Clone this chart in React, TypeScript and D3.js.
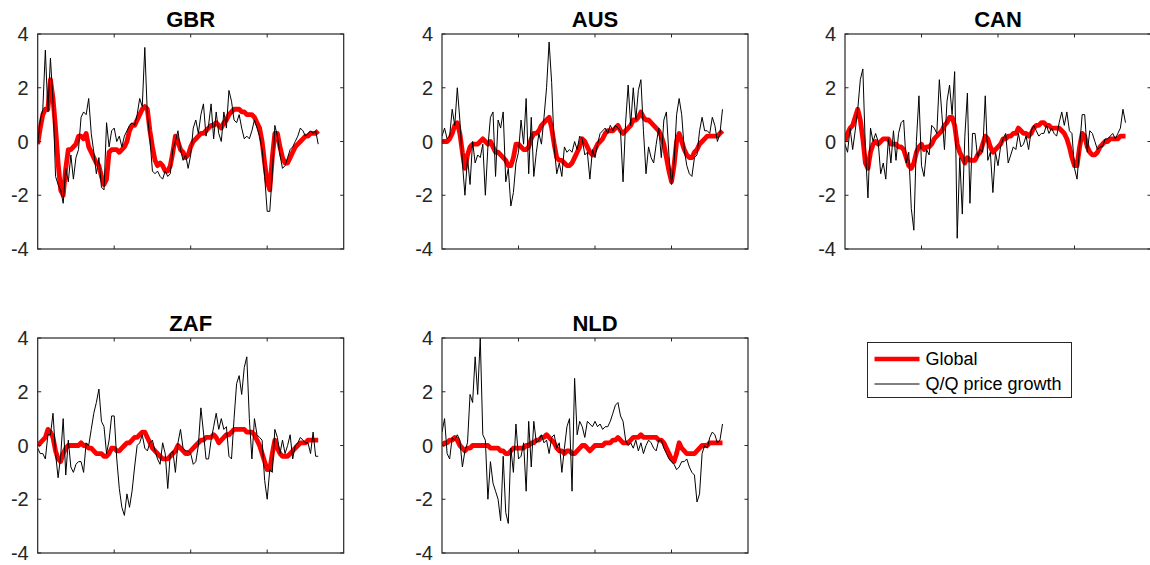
import React from "react"
import * as d3 from "d3"

// quarters on the x axis (index), tick marks only
const xDomain = [0, 120]
const xTicks = [30, 60, 90]
const yTicks = [-4, -2, 0, 2, 4]

const countries = ["GBR", "AUS", "CAN", "ZAF", "NLD"]

const gbrGlobal = [
  -0.1, 0.5, 1.0, 1.2, 1.2, 2.3, 1.6, 0.5, -0.8, -1.8,
  -2.0, -1.0, -0.3, -0.3, -0.2, -0.1, 0.2, 0.2, 0.1, 0.3,
  -0.2, -0.4, -0.6, -0.8, -0.9, -1.3, -1.6, -1.4, -0.4, -0.3,
  -0.3, -0.3, -0.4, -0.3, -0.2, 0.0, 0.4, 0.6, 0.6, 0.8,
  1.0, 1.2, 1.3, 1.2, 0.4, -0.2, -0.7, -0.9, -0.8, -0.9,
  -1.1, -1.1, -0.9, -0.4, 0.2, 0.0, -0.3, -0.4, -0.6, -0.5,
  -0.2, 0.0, 0.1, 0.2, 0.3, 0.3, 0.4, 0.5, 0.6, 0.6,
  0.7, 0.6, 0.5, 0.7, 0.8, 1.0, 1.1, 1.2, 1.2, 1.2,
  1.1, 1.1, 1.0, 1.0, 1.0, 0.9, 0.7, 0.5, 0.0, -0.8,
  -1.5, -1.8, -0.6, 0.3, 0.3, -0.2, -0.6, -0.8, -0.8, -0.6,
  -0.4, -0.2, -0.1, 0.0, 0.1, 0.2, 0.2, 0.3, 0.3, 0.3, 0.4,
]
const gbrQQ = [
  -0.1, 0.8, 1.2, 3.4, 1.1, 3.1, 1.5, -1.3, -1.6, -1.8,
  -2.3, -1.0, -1.5, -0.5, -1.4, -0.6, -0.3, 0.9, 1.1, 1.0,
  1.6, 0.3, -0.4, -1.2, -0.6, -1.7, -1.8, 0.7, -0.2, 0.4,
  0.5, 0.0, 0.2, -0.2, 0.2, 0.4, 0.6, 0.7, 0.6, 1.0,
  1.6, 1.3, 3.5, 1.0, 0.1, -1.1, -1.2, -1.1, -1.3, -1.4,
  -1.1, -1.3, -1.2, -0.3, 0.0, 0.4, -0.3, -0.7, -0.5, -1.0,
  -0.5, 0.5, 0.8, 0.3, 1.0, 1.4, 0.2, 0.6, 1.4, 0.1,
  1.1, 0.3, 0.0, 1.1, 0.5, 1.9, 1.5, 0.8, 0.7, 1.0,
  0.5, 0.1, 0.2, 0.1, 0.4, 0.8, 0.5, 0.2, -0.3, -1.3,
  -2.6, -2.6, -1.2, 0.6, 0.2, -0.5, -1.0, -0.9, -0.6, -0.3,
  -0.2, 0.0, 0.2, 0.5, 0.4, 0.2, 0.3, 0.4, 0.3, 0.4, -0.1,
]

const ausGlobal = [
  0.0, 0.0, 0.0, 0.1, 0.3, 0.6, 0.7, 0.3, -0.4, -1.0,
  -0.5, -0.2, -0.1, -0.1, -0.1, 0.0, 0.1, 0.0, -0.1, 0.0,
  -0.2, -0.4, -0.4, -0.5, -0.6, -0.7, -0.9, -0.9, -0.6, -0.1,
  -0.1, -0.2, -0.3, -0.3, -0.2, 0.1, 0.3, 0.3, 0.4, 0.6,
  0.7, 0.8, 0.9, 0.5, -0.1, -0.6, -0.7, -0.7, -0.8, -0.9,
  -0.9, -0.8, -0.6, -0.4, -0.2, 0.1, 0.0, -0.2, -0.4, -0.5,
  -0.3, -0.1, 0.0, 0.1, 0.3, 0.4, 0.4, 0.4, 0.5, 0.6,
  0.4, 0.3, 0.4, 0.5, 0.6, 0.8, 0.8, 0.9, 1.1, 0.9,
  0.8, 0.8, 0.7, 0.6, 0.5, 0.4, 0.2, -0.1, -0.6, -1.1,
  -1.5, -0.9, 0.0, 0.3, 0.0, -0.3, -0.5, -0.6, -0.6, -0.4,
  -0.3, -0.1, 0.0, 0.1, 0.2, 0.2, 0.2, 0.2, 0.2, 0.3, 0.4,
]
const ausQQ = [
  0.2, 0.5, 0.1, 0.2, 1.2, 0.6, 2.0, 0.8, -0.8, -2.0,
  -0.6, -1.6, 0.0, -0.8, -0.5, -0.6, -0.1, -2.0, -0.2, 0.9,
  1.1, -1.3, 0.8, 0.5, 1.1, -1.5, -1.0, -2.4, -1.9, -0.8,
  -0.4, 0.8, -0.1, 1.6, -1.2, 0.9, -1.3, -0.4, 0.3, -0.1,
  0.9, 2.0, 3.7, 2.2, -0.2, -1.2, -0.8, -1.3, -0.2, -0.4,
  -0.3, -0.4, 0.0, -0.3, 0.2, 0.1, -0.5, -0.4, -1.4, -0.3,
  -0.6, -0.1, 0.3, 0.4, 0.5, 0.3, 0.6, 0.4, 0.6, 0.5,
  0.4, -1.5, 0.7, 2.1, 0.6, 2.0, 0.8, 1.9, 2.3, 0.4,
  -1.2, -0.2, -0.6, -0.8, -0.1, 0.5, -0.6, 0.8, 1.1, -0.5,
  -1.6, -0.8, 1.0, 1.6, 1.0, -0.3, -0.9, -1.2, -1.3, -0.6,
  -0.5, 0.4, 0.9, 0.4, 0.4, 0.3, 0.9, 0.6, 0.0, 0.3, 1.2,
]

const canGlobal = [
  0.0, 0.3, 0.5, 0.6, 0.9, 1.2, 0.8, 0.1, -0.8, -1.0,
  -0.4, -0.1, 0.0, -0.1, 0.0, 0.1, 0.1, 0.1, -0.1, -0.1,
  -0.1, -0.2, -0.2, -0.3, -0.6, -0.9, -1.0, -0.8, -0.4, -0.2,
  -0.1, -0.3, -0.2, -0.2, -0.1, 0.1, 0.2, 0.3, 0.4, 0.6,
  0.7, 0.9, 0.9, 0.6, -0.1, -0.4, -0.6, -0.8, -0.6, -0.7,
  -0.7, -0.7, -0.5, -0.4, -0.1, 0.2, 0.1, -0.2, -0.4, -0.3,
  -0.2, -0.1, 0.1, 0.1, 0.2, 0.2, 0.3, 0.3, 0.5, 0.4,
  0.3, 0.3, 0.2, 0.3, 0.5, 0.6, 0.6, 0.7, 0.7, 0.6,
  0.6, 0.5, 0.5, 0.5, 0.5, 0.4, 0.3, 0.1, -0.2, -0.6,
  -0.9, -0.9, -0.2, 0.3, 0.2, -0.2, -0.4, -0.5, -0.5, -0.4,
  -0.2, -0.1, 0.0, 0.0, 0.1, 0.1, 0.1, 0.1, 0.2, 0.2, 0.2,
]
const canQQ = [
  -0.1, -0.4, 0.5, -0.3, 0.4, 1.2, 2.3, 2.7, -0.3, -2.1,
  0.5, 0.0, 0.3, 0.0, -1.2, -0.8, -1.4, 0.1, -0.8, 0.4,
  -0.7, 0.3, 0.7, 0.8, -0.8, -0.4, -2.5, -3.3, 0.0, 1.7,
  -0.9, -1.3, -0.3, -0.5, 0.6, 0.5, 0.3, 2.3, 1.0, -0.3,
  1.5, 2.1, 1.0, 2.6, -3.6, -0.6, -2.7, 0.2, 1.8, -2.3,
  0.3, 0.3, -0.6, -0.3, -0.4, 1.7, -0.7, -0.4, -1.9, -0.4,
  -0.9, -0.2, 0.1, 0.3, -0.8, -0.5, -0.2, -0.3, 0.3, -0.2,
  -0.1, 0.2, -0.3, 0.4, 0.6, 0.4, 0.2, 0.3, 0.3, 0.6,
  0.3, 0.5, 0.3, 0.2, 0.7, 1.1, 0.6, 1.1, 0.4, 0.3,
  -1.0, -1.4, -0.2, 1.0, 1.0, -0.4, 0.4, 0.3, 0.0, -0.3,
  -0.2, -0.2, 0.1, 0.1, 0.2, 0.3, 0.1, 0.3, 0.5, 1.2, 0.7,
]

const zafGlobal = [
  0.0, 0.1, 0.2, 0.3, 0.6, 0.5, 0.3, -0.2, -0.5, -0.6,
  -0.3, -0.1, 0.0, 0.0, 0.0, 0.0, 0.0, 0.1, 0.0, 0.0,
  -0.1, -0.1, -0.2, -0.3, -0.3, -0.3, -0.4, -0.4, -0.3, -0.1,
  -0.1, -0.2, -0.2, -0.1, 0.0, 0.1, 0.1, 0.2, 0.3, 0.3,
  0.4, 0.5, 0.5, 0.3, 0.1, -0.1, -0.2, -0.3, -0.4, -0.5,
  -0.5, -0.5, -0.4, -0.3, -0.2, 0.0, -0.1, -0.2, -0.3, -0.3,
  -0.2, -0.1, 0.0, 0.1, 0.2, 0.2, 0.3, 0.3, 0.3, 0.4,
  0.3, 0.1, 0.2, 0.3, 0.4, 0.4, 0.5, 0.6, 0.6, 0.6,
  0.6, 0.6, 0.5, 0.5, 0.5, 0.4, 0.2, 0.0, -0.3, -0.6,
  -0.9, -0.9, -0.3, 0.2, -0.1, -0.3, -0.4, -0.4, -0.4, -0.3,
  -0.2, -0.1, 0.0, 0.1, 0.1, 0.1, 0.2, 0.2, 0.2, 0.2, 0.2,
]
const zafQQ = [
  -0.1, -0.3, -0.3, -0.5, 0.4, 0.4, 1.2, -0.3, -1.2, -0.4,
  1.0, -1.1, 0.2, -0.8, -1.0, -0.7, -0.6, -0.6, -1.0, 0.1,
  0.0, 0.6, 1.2, 1.6, 2.1, 0.9, 0.7, -0.3, 0.2, 1.1,
  1.1, -0.5, -1.6, -2.3, -2.6, -1.8, -2.3, -1.7, -0.8, 0.0,
  0.1, 0.4, -0.1, -0.2, 0.1, 0.2, -0.2, -0.5, -0.7, 0.1,
  -0.3, -1.6, -0.3, -0.2, -1.0, 0.1, 0.6, -0.1, -0.2, -0.2,
  -0.3, -0.7, -0.6, 0.0, 1.4, 0.5, -0.5, -0.5, 0.2, 0.7,
  1.2, 0.6, 1.0, 0.6, 0.7, -0.4, -0.5, 1.0, 2.3, 2.6,
  1.9, 2.9, 3.3, 1.0, -0.5, 1.0, 0.4, 0.3, 0.2, -1.3,
  -2.0, -0.9, -1.0, 0.6, 0.3, -0.3, 0.2, -0.3, 0.0, 0.4,
  -0.5, 0.0, 0.1, 0.3, 0.2, 0.1, 0.1, -0.3, 0.5, -0.4, -0.4,
]

const nldGlobal = [
  0.0, 0.1, 0.1, 0.2, 0.2, 0.3, 0.2, 0.0, -0.1, -0.2,
  -0.1, -0.1, 0.0, 0.0, 0.0, 0.0, 0.0, 0.0, 0.0, -0.1,
  -0.1, -0.1, -0.1, -0.2, -0.2, -0.3, -0.3, -0.2, -0.1, -0.1,
  -0.1, -0.1, -0.1, 0.0, 0.0, 0.1, 0.1, 0.2, 0.2, 0.3,
  0.3, 0.4, 0.3, 0.2, 0.1, -0.1, -0.2, -0.2, -0.3, -0.2,
  -0.2, -0.3, -0.3, -0.2, -0.1, 0.0, 0.0, -0.1, -0.2, -0.1,
  0.0, 0.0, 0.0, 0.0, 0.1, 0.1, 0.1, 0.2, 0.2, 0.3,
  0.2, 0.1, 0.1, 0.1, 0.2, 0.3, 0.3, 0.3, 0.4, 0.3,
  0.3, 0.3, 0.3, 0.3, 0.3, 0.2, 0.2, 0.1, -0.1, -0.3,
  -0.5, -0.6, -0.3, 0.1, -0.1, -0.2, -0.3, -0.3, -0.3, -0.3,
  -0.2, -0.1, 0.0, 0.0, 0.0, 0.1, 0.1, 0.1, 0.1, 0.1, 0.1,
]
const nldQQ = [
  0.5, 1.0, -0.3, -0.5, 0.3, 0.2, 0.4, 0.2, -0.8, -0.2,
  0.1, 1.9, 1.6, 3.3, 1.9, 4.0, 0.4, 0.2, -2.0, -0.6,
  -1.4, -1.7, -2.0, -2.8, -0.4, -2.5, -2.9, -0.1, -1.0, 0.8,
  -0.5, -0.4, 0.1, -1.7, 0.9, -0.8, 0.9, 0.1, 0.2, 0.4,
  0.1, 0.2, -0.3, 0.3, 0.4, -0.1, 0.1, -1.0, -0.1, 0.7,
  1.0, -1.7, 2.5, 0.4, 0.9, 0.7, 0.3, 0.9, 0.8, 0.7,
  0.9, 0.7, 0.8, 0.6, 0.7, 0.7, 0.9, 1.2, 1.5, 1.6,
  1.1, 0.9, 0.2, 0.0, 0.1, -0.1, 0.2, -0.2, 0.1, -0.3,
  0.0, 0.2, 0.1, -0.1, -0.2, 0.2, 0.2, -0.1, -0.3, -0.5,
  -0.6, -0.7, -0.9, -0.8, -0.6, -0.6, -0.5, -0.8, -1.0, -1.1,
  -2.1, -1.8, -0.3, 0.0, -0.1, 0.3, 0.5, 0.4, 0.1, 0.2, 0.8,
]

const globalSeries = [gbrGlobal, ausGlobal, canGlobal, zafGlobal, nldGlobal]
const qqSeries = [gbrQQ, ausQQ, canQQ, zafQQ, nldQQ]

const legendLabels = ["Global", "Q/Q price growth"]

const W = 1150
const H = 565
const panelW = 306
const panelH = 215
const colX = [37.7, 442, 845]
const rowY = [34, 338]
const axisColor = "#262626"
const font = "'Liberation Sans', Arial, Helvetica, sans-serif"

const Panel = ({ idx }: { idx: number }) => {
  const left = colX[idx % 3]
  const top = rowY[Math.floor(idx / 3)]
  const x = d3.scaleLinear().domain(xDomain).range([left, left + panelW])
  const y = d3.scaleLinear().domain([-4, 4]).range([top + panelH, top])
  const line = d3
    .line<number>()
    .x((d, i) => x(i))
    .y((d) => y(d))
  const tl = 3.5
  const clipId = `clip-${idx}`

  return (
    <g>
      <defs>
        <clipPath id={clipId}>
          <rect x={left} y={top} width={panelW} height={panelH} />
        </clipPath>
      </defs>
      <text
        x={left + panelW / 2}
        y={top - 7}
        textAnchor="middle"
        fontFamily={font}
        fontWeight="bold"
        fontSize={22}
        fill="#000"
      >
        {countries[idx]}
      </text>
      <g clipPath={`url(#${clipId})`}>
        <path
          d={line(globalSeries[idx]) || ""}
          fill="none"
          stroke="#ff0000"
          strokeWidth={4.8}
          strokeLinejoin="round"
        />
        <path
          d={line(qqSeries[idx]) || ""}
          fill="none"
          stroke="#000"
          strokeWidth={1}
          strokeLinejoin="round"
        />
      </g>
      <rect
        x={left}
        y={top}
        width={panelW}
        height={panelH}
        fill="none"
        stroke={axisColor}
        strokeWidth={1.2}
      />
      {xTicks.map((t) => (
        <g key={"x" + t}>
          <line x1={x(t)} x2={x(t)} y1={top + panelH} y2={top + panelH - tl} stroke={axisColor} />
          <line x1={x(t)} x2={x(t)} y1={top} y2={top + tl} stroke={axisColor} />
        </g>
      ))}
      {yTicks.map((t) => (
        <g key={"y" + t}>
          <line x1={left} x2={left + tl} y1={y(t)} y2={y(t)} stroke={axisColor} />
          <line x1={left + panelW} x2={left + panelW - tl} y1={y(t)} y2={y(t)} stroke={axisColor} />
          <text
            x={left - 9}
            y={y(t)}
            dy="0.36em"
            textAnchor="end"
            fontFamily={font}
            fontSize={20}
            fill={axisColor}
          >
            {t}
          </text>
        </g>
      ))}
    </g>
  )
}

const Legend = () => {
  const lx = 867.5
  const ly = 342.5
  const rows = [
    { color: "#ff0000", width: 4.5 },
    { color: "#000", width: 1 },
  ]
  return (
    <g>
      <rect x={lx} y={ly} width={204} height={55} fill="#fff" stroke={axisColor} strokeWidth={1} />
      {legendLabels.map((label, i) => {
        const cy = ly + 16.5 + i * 25
        return (
          <g key={label}>
            <line x1={lx + 7} x2={lx + 52} y1={cy} y2={cy} stroke={rows[i].color} strokeWidth={rows[i].width} />
            <text x={lx + 58} y={cy} dy="0.36em" fontFamily={font} fontSize={18} fill="#000">
              {label}
            </text>
          </g>
        )
      })}
    </g>
  )
}

const App = () => {
  return (
    <svg
      width={W}
      height={H}
      style={{ position: "absolute", left: 0, top: 0, background: "#fff" }}
    >
      {countries.map((c, i) => (
        <Panel key={c} idx={i} />
      ))}
      <Legend />
    </svg>
  )
}

export default App
